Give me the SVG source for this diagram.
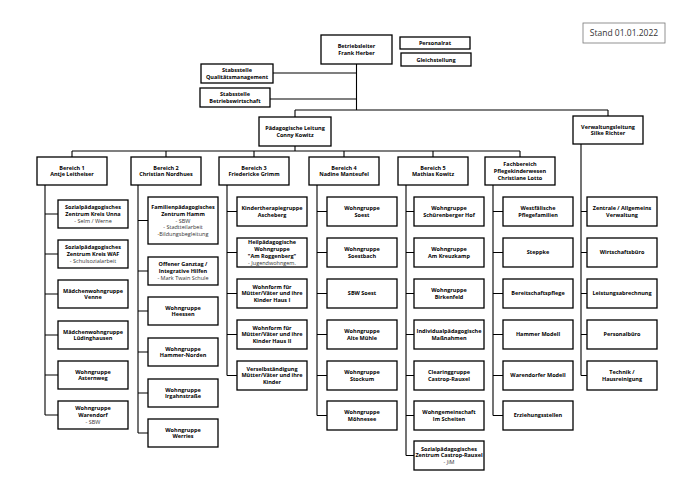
<svg xmlns="http://www.w3.org/2000/svg" width="690" height="488" viewBox="0 0 690 488">
<style>
.box{fill:#fff;stroke:#000;stroke-width:1.3}
.t{font-family:"Open Sans","DejaVu Sans",sans-serif;font-size:5.5px;font-weight:700;text-anchor:middle;fill:#000}
.s{font-weight:400;fill:#333}
.c{fill:none;stroke:#000;stroke-width:1.1}
</style>
<rect width="690" height="488" fill="#fff"/>
<g id="connectors" class="c">
<path d="M356.5,64V110M273,73H356.5M270,99H356.5M295,110H608M295,110V117M608,110V116"/>
<path d="M295,146V151M72,151H520M72,151V157M166,151V157M254,151V157M344,151V157M433,151V157M520,151V157"/>
<path d="M45,185V415M45,214H58M45,254H58M45,294H58M45,335H58M45,375H58M45,415H58"/>
<path d="M138,185V433M138,220.5H148M138,271H148M138,311H148M138,352H148M138,393H148M138,433H148"/>
<path d="M227,185V375.5M227,211.5H237M227,252.5H237M227,293.5H237M227,334.5H237M227,375.5H237"/>
<path d="M317,185V415.5M317,211.5H327M317,252.5H327M317,293.5H327M317,334.5H327M317,375.5H327M317,415.5H327"/>
<path d="M406,185V455.5M406,211.5H414M406,252.5H414M406,293.5H414M406,334.5H414M406,375.5H414M406,415.5H414M406,455.5H414"/>
<path d="M493,185V415.5M493,211.5H503M493,252.5H503M493,293.5H503M493,334.5H503M493,375.5H503M493,415.5H503"/>
<path d="M581,144V375.5M581,211.5H587M581,252.5H587M581,293.5H587M581,334.5H587M581,375.5H587"/>
</g>
<g id="stand"><rect x="583" y="23" width="82" height="20" fill="#fff" stroke="#777" stroke-width="0.8"/><text x="624" y="36" font-family="Open Sans, DejaVu Sans, sans-serif" font-size="8.5" text-anchor="middle" fill="#333">Stand 01.01.2022</text></g>
<g id="betriebsleiter"><rect class="box" x="321" y="35" width="71" height="29"/><text class="t"><tspan x="356.5" y="48">Betriebsleiter</tspan><tspan x="356.5" y="54.9">Frank Herber</tspan></text></g>
<g id="personalrat"><rect class="box" x="400" y="37" width="70" height="12"/><text class="t" x="435" y="45">Personalrat</text></g>
<g id="gleichstellung"><rect class="box" x="401" y="53" width="70" height="13"/><text class="t" x="436" y="61.5">Gleichstellung</text></g>
<g id="stab-qm"><rect class="box" x="201" y="64" width="72" height="19"/><text class="t"><tspan x="237" y="72">Stabsstelle</tspan><tspan x="237" y="78.8">Qualitätsmanagement</tspan></text></g>
<g id="stab-bw"><rect class="box" x="200" y="88" width="70" height="19"/><text class="t"><tspan x="235" y="96">Stabsstelle</tspan><tspan x="235" y="102.8">Betriebswirtschaft</tspan></text></g>
<g id="paed-leitung"><rect class="box" x="259" y="117" width="72" height="29"/><text class="t"><tspan x="295" y="130">Pädagogische Leitung</tspan><tspan x="295" y="136.8">Conny Kowitz</tspan></text></g>
<g id="verwaltungsleitung"><rect class="box" x="573" y="116" width="70" height="28"/><text class="t"><tspan x="608" y="128.5">Verwaltungsleitung</tspan><tspan x="608" y="135.3">Silke Richter</tspan></text></g>
<g id="bereich1"><rect class="box" x="37" y="157" width="70" height="28"/><text class="t"><tspan x="72" y="169.5">Bereich 1</tspan><tspan x="72" y="176.3">Antje Leitheiser</tspan></text></g>
<g id="bereich2"><rect class="box" x="131" y="157" width="70" height="28"/><text class="t"><tspan x="166" y="169.5">Bereich 2</tspan><tspan x="166" y="176.3">Christian Nordhues</tspan></text></g>
<g id="bereich3"><rect class="box" x="219" y="157" width="70" height="28"/><text class="t"><tspan x="254" y="169.5">Bereich 3</tspan><tspan x="254" y="176.3">Friedericke Grimm</tspan></text></g>
<g id="bereich4"><rect class="box" x="309" y="157" width="70" height="28"/><text class="t"><tspan x="344" y="169.5">Bereich 4</tspan><tspan x="344" y="176.3">Nadine Manteufel</tspan></text></g>
<g id="bereich5"><rect class="box" x="398" y="157" width="70" height="28"/><text class="t"><tspan x="433" y="169.5">Bereich 5</tspan><tspan x="433" y="176.3">Mathias Kowitz</tspan></text></g>
<g id="fachbereich"><rect class="box" x="485" y="157" width="70" height="28"/><text class="t"><tspan x="520" y="166.1">Fachbereich</tspan><tspan x="520" y="172.9">Pflegekinderwesen</tspan><tspan x="520" y="179.7">Christiane Lotto</tspan></text></g>

<g id="b1-1"><rect class="box" x="58" y="200" width="70" height="28"/><text class="t"><tspan x="93" y="209.1">Sozialpädagogisches</tspan><tspan x="93" y="216">Zentrum Kreis Unna</tspan><tspan class="s" x="93" y="222.7">- Selm / Werne</tspan></text></g>
<g id="b1-2"><rect class="box" x="58" y="240" width="70" height="28"/><text class="t"><tspan x="93" y="249.1">Sozialpädagogisches</tspan><tspan x="93" y="256">Zentrum Kreis WAF</tspan><tspan class="s" x="93" y="262.7">- Schulsozialarbeit</tspan></text></g>
<g id="b1-3"><rect class="box" x="58" y="280" width="70" height="28"/><text class="t"><tspan x="93" y="292.5">Mädchenwohngruppe</tspan><tspan x="93" y="299.3">Venne</tspan></text></g>
<g id="b1-4"><rect class="box" x="58" y="321" width="70" height="28"/><text class="t"><tspan x="93" y="333.5">Mädchenwohngruppe</tspan><tspan x="93" y="340.3">Lüdinghausen</tspan></text></g>
<g id="b1-5"><rect class="box" x="58" y="361" width="70" height="28"/><text class="t"><tspan x="93" y="373.5">Wohngruppe</tspan><tspan x="93" y="380.3">Asternweg</tspan></text></g>
<g id="b1-6"><rect class="box" x="58" y="401" width="70" height="28"/><text class="t"><tspan x="93" y="410.1">Wohngruppe</tspan><tspan x="93" y="417">Warendorf</tspan><tspan class="s" x="93" y="423.7">- SBW</tspan></text></g>

<g id="b2-1"><rect class="box" x="148" y="197" width="70" height="47"/><text class="t"><tspan x="183" y="208.9">Familienpädagogisches</tspan><tspan x="183" y="215.7">Zentrum Hamm</tspan><tspan class="s" x="183" y="222.5">- SBW</tspan><tspan class="s" x="183" y="229.3">- Stadtteilarbeit</tspan><tspan class="s" x="183" y="236.1">-Bildungsbegleitung</tspan></text></g>
<g id="b2-2"><rect class="box" x="148" y="257" width="70" height="28"/><text class="t"><tspan x="183" y="266.2">Offener Ganztag /</tspan><tspan x="183" y="273">Integrative Hilfen</tspan><tspan class="s" x="183" y="279.8">- Mark Twain Schule</tspan></text></g>
<g id="b2-3"><rect class="box" x="148" y="297" width="70" height="28"/><text class="t"><tspan x="183" y="309.6">Wohngruppe</tspan><tspan x="183" y="316.4">Heessen</tspan></text></g>
<g id="b2-4"><rect class="box" x="148" y="338" width="70" height="28"/><text class="t"><tspan x="183" y="350.6">Wohngruppe</tspan><tspan x="183" y="357.4">Hammer-Norden</tspan></text></g>
<g id="b2-5"><rect class="box" x="148" y="379" width="70" height="28"/><text class="t"><tspan x="183" y="391.6">Wohngruppe</tspan><tspan x="183" y="398.4">Irgahnstraße</tspan></text></g>
<g id="b2-6"><rect class="box" x="148" y="419" width="70" height="28"/><text class="t"><tspan x="183" y="431.6">Wohngruppe</tspan><tspan x="183" y="438.4">Werries</tspan></text></g>

<g id="b3-1"><rect class="box" x="237" y="197" width="70" height="29"/><text class="t"><tspan x="272" y="210">Kindertherapiegruppe</tspan><tspan x="272" y="216.8">Ascheberg</tspan></text></g>
<g id="b3-2"><rect class="box" x="237" y="238" width="70" height="29"/><text class="t"><tspan x="272" y="244.2">Heilpädagogische</tspan><tspan x="272" y="251">Wohngruppe</tspan><tspan x="272" y="257.8">"Am Roggenberg"</tspan><tspan class="s" x="272" y="264.6">- Jugendwohngem.</tspan></text></g>
<g id="b3-3"><rect class="box" x="237" y="279" width="70" height="29"/><text class="t"><tspan x="272" y="288.6">Wohnform für</tspan><tspan x="272" y="295.4">Mütter/Väter und ihre</tspan><tspan x="272" y="302.2">Kinder Haus I</tspan></text></g>
<g id="b3-4"><rect class="box" x="237" y="320" width="70" height="29"/><text class="t"><tspan x="272" y="329.6">Wohnform für</tspan><tspan x="272" y="336.4">Mütter/Väter und ihre</tspan><tspan x="272" y="343.2">Kinder Haus II</tspan></text></g>
<g id="b3-5"><rect class="box" x="237" y="361" width="70" height="29"/><text class="t"><tspan x="272" y="370.6">Verselbständigung</tspan><tspan x="272" y="377.4">Mütter/Väter und ihre</tspan><tspan x="272" y="384.2">Kinder</tspan></text></g>

<g id="b4-1"><rect class="box" x="327" y="197" width="70" height="29"/><text class="t"><tspan x="362" y="210">Wohngruppe</tspan><tspan x="362" y="216.8">Soest</tspan></text></g>
<g id="b4-2"><rect class="box" x="327" y="238" width="70" height="29"/><text class="t"><tspan x="362" y="251">Wohngruppe</tspan><tspan x="362" y="257.8">Soestbach</tspan></text></g>
<g id="b4-3"><rect class="box" x="327" y="279" width="70" height="29"/><text class="t" x="362" y="295.4">SBW Soest</text></g>
<g id="b4-4"><rect class="box" x="327" y="320" width="70" height="29"/><text class="t"><tspan x="362" y="333">Wohngruppe</tspan><tspan x="362" y="339.8">Alte Mühle</tspan></text></g>
<g id="b4-5"><rect class="box" x="327" y="361" width="70" height="29"/><text class="t"><tspan x="362" y="374">Wohngruppe</tspan><tspan x="362" y="380.8">Stockum</tspan></text></g>
<g id="b4-6"><rect class="box" x="327" y="401" width="70" height="29"/><text class="t"><tspan x="362" y="414">Wohngruppe</tspan><tspan x="362" y="420.8">Möhnesee</tspan></text></g>

<g id="b5-1"><rect class="box" x="414" y="197" width="70" height="29"/><text class="t"><tspan x="449" y="210">Wohngruppe</tspan><tspan x="449" y="216.8">Schürenberger Hof</tspan></text></g>
<g id="b5-2"><rect class="box" x="414" y="238" width="70" height="29"/><text class="t"><tspan x="449" y="251">Wohngruppe</tspan><tspan x="449" y="257.8">Am Kreuzkamp</tspan></text></g>
<g id="b5-3"><rect class="box" x="414" y="279" width="70" height="29"/><text class="t"><tspan x="449" y="292">Wohngruppe</tspan><tspan x="449" y="298.8">Birkenfeld</tspan></text></g>
<g id="b5-4"><rect class="box" x="414" y="320" width="70" height="29"/><text class="t"><tspan x="449" y="333">Individualpädagogische</tspan><tspan x="449" y="339.8">Maßnahmen</tspan></text></g>
<g id="b5-5"><rect class="box" x="414" y="361" width="70" height="29"/><text class="t"><tspan x="449" y="374">Clearinggruppe</tspan><tspan x="449" y="380.8">Castrop-Rauxel</tspan></text></g>
<g id="b5-6"><rect class="box" x="414" y="401" width="70" height="29"/><text class="t"><tspan x="449" y="414">Wohngemeinschaft</tspan><tspan x="449" y="420.8">Im Scheiten</tspan></text></g>
<g id="b5-7"><rect class="box" x="414" y="441" width="70" height="29"/><text class="t"><tspan x="449" y="450.6">Sozialpädagogisches</tspan><tspan x="449" y="457.4">Zentrum Castrop-Rauxel</tspan><tspan class="s" x="449" y="464.2">- JiM</tspan></text></g>

<g id="fb-1"><rect class="box" x="503" y="197" width="70" height="29"/><text class="t"><tspan x="538" y="210">Westfälische</tspan><tspan x="538" y="216.8">Pflegefamilien</tspan></text></g>
<g id="fb-2"><rect class="box" x="503" y="238" width="70" height="29"/><text class="t" x="538" y="254.4">Steppke</text></g>
<g id="fb-3"><rect class="box" x="503" y="279" width="70" height="29"/><text class="t" x="538" y="295.4">Bereitschaftspflege</text></g>
<g id="fb-4"><rect class="box" x="503" y="320" width="70" height="29"/><text class="t" x="538" y="336.4">Hammer Modell</text></g>
<g id="fb-5"><rect class="box" x="503" y="361" width="70" height="29"/><text class="t" x="538" y="377.4">Warendorfer Modell</text></g>
<g id="fb-6"><rect class="box" x="503" y="401" width="70" height="29"/><text class="t" x="538" y="417.4">Erziehungsstellen</text></g>

<g id="vw-1"><rect class="box" x="587" y="197" width="70" height="29"/><text class="t"><tspan x="622" y="210">Zentrale / Allgemeins</tspan><tspan x="622" y="216.8">Verwaltung</tspan></text></g>
<g id="vw-2"><rect class="box" x="587" y="238" width="70" height="29"/><text class="t" x="622" y="254.4">Wirtschaftsbüro</text></g>
<g id="vw-3"><rect class="box" x="587" y="279" width="70" height="29"/><text class="t" x="622" y="295.4">Leistungsabrechnung</text></g>
<g id="vw-4"><rect class="box" x="587" y="320" width="70" height="29"/><text class="t" x="622" y="336.4">Personalbüro</text></g>
<g id="vw-5"><rect class="box" x="587" y="361" width="70" height="29"/><text class="t"><tspan x="622" y="374">Technik /</tspan><tspan x="622" y="380.8">Hausreinigung</tspan></text></g>
</svg>
